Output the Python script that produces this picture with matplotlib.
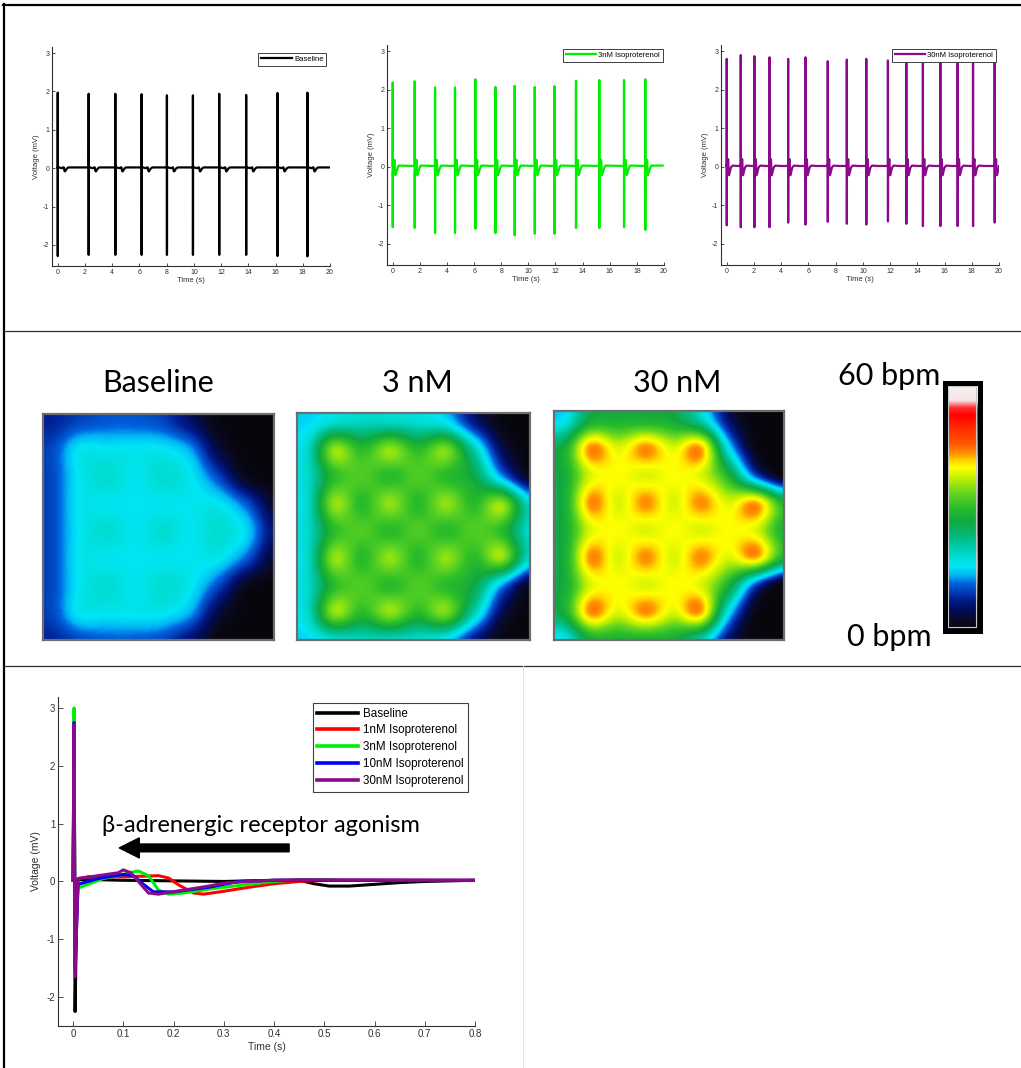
import numpy as np
import matplotlib
matplotlib.use("Agg")
import matplotlib.pyplot as plt
from matplotlib.colors import LinearSegmentedColormap, Normalize
from matplotlib.cm import ScalarMappable
from matplotlib.lines import Line2D
from matplotlib.patches import Rectangle

W, H = 1021, 1068

# single-beat field potentials, time after spike (s) and voltage (mV)
# points 1 and 2 are the spike peak and trough
base_t = [0, 0.002, 0.004, 0.008, 0.05, 0.1, 0.2, 0.3, 0.4, 0.45, 0.48, 0.51, 0.55, 0.6, 0.65, 0.7, 0.8]
base_v = [0.02, 1.97, -2.25, 0.03, 0.03, 0.02, 0.01, 0.0, 0.02, 0.02, -0.04, -0.08, -0.08, -0.05, -0.02, 0.0, 0.02]
iso1_t = [0, 0.002, 0.004, 0.01, 0.03, 0.1, 0.17, 0.19, 0.21, 0.24, 0.26, 0.3, 0.35, 0.4, 0.45, 0.5, 0.8]
iso1_v = [0.02, 2.3, -1.3, 0.05, 0.08, 0.08, 0.1, 0.06, -0.06, -0.2, -0.22, -0.17, -0.1, -0.04, 0.0, 0.02, 0.02]
iso3_t = [0, 0.002, 0.004, 0.008, 0.03, 0.06, 0.09, 0.11, 0.13, 0.15, 0.17, 0.19, 0.22, 0.28, 0.34, 0.4, 0.45, 0.52]
iso3_v = [0.02, 3.0, -1.3, -0.12, -0.05, 0.05, 0.1, 0.15, 0.18, 0.1, -0.15, -0.22, -0.2, -0.12, -0.06, 0.0, 0.03, 0.03]
iso10_t = [0, 0.002, 0.004, 0.01, 0.05, 0.1, 0.12, 0.14, 0.16, 0.2, 0.27, 0.33, 0.4, 0.8]
iso10_v = [0.02, 2.75, -1.5, -0.05, 0.05, 0.12, 0.1, -0.05, -0.18, -0.18, -0.1, 0.0, 0.02, 0.02]
iso30_t = [0, 0.002, 0.004, 0.01, 0.05, 0.09, 0.1, 0.115, 0.135, 0.15, 0.17, 0.22, 0.27, 0.3, 0.35, 0.4, 0.45, 0.8]
iso30_v = [0.02, 2.72, -1.65, 0.05, 0.1, 0.15, 0.2, 0.15, -0.05, -0.2, -0.22, -0.15, -0.08, -0.03, 0.0, 0.02, 0.03, 0.02]

# 20 s recordings: spike times (s) and spike extremes (mV)
base_beats = [0.0, 2.27, 4.23, 6.16, 8.02, 9.93, 11.86, 13.84, 16.14, 18.34]
base_peaks = [1.97, 1.94, 1.94, 1.93, 1.90, 1.90, 1.94, 1.91, 1.96, 1.97]
base_troughs = [-2.29, -2.26, -2.26, -2.26, -2.26, -2.26, -2.26, -2.26, -2.29, -2.30]

iso3_beats = [0.0, 1.62, 3.12, 4.59, 6.09, 7.57, 8.99, 10.47, 11.92, 13.51, 15.23, 17.05, 18.62]
iso3_peaks = [2.19, 2.22, 2.06, 2.06, 2.27, 2.07, 2.10, 2.07, 2.09, 2.23, 2.25, 2.25, 2.27]
iso3_troughs = [-1.57, -1.59, -1.72, -1.72, -1.61, -1.72, -1.78, -1.74, -1.74, -1.59, -1.59, -1.57, -1.64]

iso30_beats = [0.0, 1.03, 2.03, 3.14, 4.51, 5.78, 7.42, 8.82, 10.25, 11.84, 13.19, 14.41, 15.69, 16.96, 18.09, 19.68]
iso30_peaks = [2.80, 2.90, 2.87, 2.84, 2.80, 2.84, 2.74, 2.78, 2.80, 2.76, 2.74, 2.74, 2.74, 2.74, 2.74, 2.74]
iso30_troughs = [-1.52, -1.57, -1.57, -1.57, -1.45, -1.50, -1.43, -1.48, -1.50, -1.42, -1.48, -1.54, -1.54, -1.54, -1.54, -1.45]

# beat rate maps (bpm), electrode grid rows top to bottom
base_rate = [
    [8, 10, 11, 11, 10, 6, 1, 0, 0],
    [10, 16, 16, 16, 16, 13, 4, 0, 0],
    [10, 16, 18, 16, 18, 16, 10, 2, 0],
    [10, 16, 16, 16, 16, 16, 16, 11, 3],
    [10, 16, 18, 16, 18, 16, 18, 15, 6],
    [10, 16, 16, 16, 16, 16, 16, 11, 3],
    [10, 16, 18, 16, 18, 16, 10, 2, 0],
    [10, 16, 16, 16, 16, 13, 4, 0, 0],
    [8, 10, 11, 11, 10, 6, 1, 0, 0],
]
iso3_rate = [
    [15, 18, 19, 19, 18, 16, 7, 1, 0],
    [18, 35, 29.5, 35, 29.5, 34, 20, 5, 0],
    [18, 29.5, 32, 29.5, 32, 29.5, 26, 13, 2],
    [18, 35, 29.5, 35, 29.5, 35, 29.5, 35, 18],
    [18, 29.5, 32, 29.5, 32, 29.5, 32, 29.5, 18],
    [18, 35, 29.5, 35, 29.5, 35, 29.5, 35, 18],
    [18, 29.5, 32, 29.5, 32, 29.5, 26, 13, 2],
    [18, 35, 29.5, 35, 29.5, 34, 20, 5, 0],
    [15, 18, 19, 19, 18, 16, 7, 1, 0],
]
iso30_rate = [
    [16, 27, 28, 28, 27, 20, 6, 0, 0],
    [27, 43, 38, 43, 38, 42, 16, 1, 0],
    [27, 38, 39.5, 38, 39.5, 38, 28, 10, 0],
    [27, 43, 38, 43, 38, 43, 38, 42, 28],
    [27, 38, 39.5, 38, 39.5, 38, 39.5, 38, 28],
    [27, 43, 38, 43, 38, 43, 38, 42, 28],
    [27, 38, 39.5, 38, 39.5, 38, 28, 10, 0],
    [27, 43, 38, 43, 38, 42, 16, 1, 0],
    [16, 27, 28, 28, 27, 20, 6, 0, 0],
]
rate_titles = ["Baseline", "3 nM", "30 nM"]

trace_labels = ["Baseline", "1nM Isoproterenol", "3nM Isoproterenol",
                "10nM Isoproterenol", "30nM Isoproterenol"]
trace_colors = ["#000000", "#ff0000", "#00ee00", "#0000ff", "#8b0a8b"]

plt.rcParams["font.family"] = ["Liberation Sans", "DejaVu Sans"]
plt.rcParams["axes.unicode_minus"] = False
big_font = ["Lato", "DejaVu Sans"]

fig = plt.figure(figsize=(W / 100, H / 100), dpi=100)


def px_axes(x0, y0, x1, y1):
    return fig.add_axes([x0 / W, 1 - y1 / H, (x1 - x0) / W, (y1 - y0) / H])


def beat_train(times, peaks, troughs, tpl_t, tpl_v, t_end):
    t_all, v_all = [], []
    for t0, pk, tr in zip(times, peaks, troughs):
        v = list(tpl_v)
        v[1], v[2] = pk, tr
        t_all.extend(t0 + np.asarray(tpl_t))
        v_all.extend(v)
    t_all.append(t_end)
    v_all.append(v_all[-1])
    return np.array(t_all), np.array(v_all)


def matlab_style(ax, fs, ticklen):
    for side in ("top", "right"):
        ax.spines[side].set_visible(False)
    for side in ("left", "bottom"):
        ax.spines[side].set_color("#303030")
        ax.spines[side].set_linewidth(0.8)
    ax.tick_params(direction="in", length=ticklen, width=0.6, labelsize=fs,
                   colors="#303030", pad=2)


# ---- top row: 20 s recordings ----
top_panels = [
    ((52, 47, 330, 266), base_beats, base_peaks, base_troughs, base_t, base_v,
     "#000000", "Baseline", 20.0, (0.986, 0.973)),
    ((387, 45, 664, 265), iso3_beats, iso3_peaks, iso3_troughs, iso3_t, iso3_v,
     "#00ee00", "3nM Isoproterenol", 19.9, (0.996, 0.982)),
    ((721, 45, 999, 265), iso30_beats, iso30_peaks, iso30_troughs, iso30_t, iso30_v,
     "#8b0a8b", "30nM Isoproterenol", 20.0, (0.989, 0.982)),
]
for box, beats, pk, tr, tt, tv, color, label, t_end, leg_at in top_panels:
    ax = px_axes(*box)
    t, v = beat_train(beats, pk, tr, tt, tv, t_end)
    ax.plot(t, v, color=color, lw=1.6, label=label)
    ax.set_xlim(-0.42, 20)
    ax.set_ylim(-2.55, 3.16)
    ax.set_xticks(range(0, 21, 2))
    ax.set_yticks(range(-2, 4))
    ax.set_xlabel("Time (s)", fontsize=5.5, labelpad=1, color="#303030")
    ax.set_ylabel("Voltage (mV)", fontsize=5.5, labelpad=2, color="#303030")
    matlab_style(ax, 5, 2.5)
    leg = ax.legend(loc="upper right", bbox_to_anchor=leg_at, borderaxespad=0,
                    fontsize=5.5, handlelength=4, handletextpad=0.3,
                    borderpad=0.35, fancybox=False, framealpha=1)
    leg.get_frame().set_edgecolor("#404040")
    leg.get_frame().set_linewidth(0.7)

# ---- middle row: beat rate maps ----
cmap = LinearSegmentedColormap.from_list("bpm", [
    (0.00, "#06060c"), (0.04, "#0a0a24"), (0.08, "#000c55"),
    (0.125, "#001c90"), (0.19, "#0064e0"), (0.22, "#00b4f4"),
    (0.26, "#00e6f6"), (0.30, "#00dcd0"), (0.36, "#00c090"),
    (0.44, "#10a840"), (0.50, "#2cbe28"), (0.56, "#6ad820"),
    (0.61, "#bcee00"), (0.66, "#ffff00"), (0.685, "#ffd800"),
    (0.71, "#ff9800"), (0.75, "#ff5a00"), (0.81, "#ff3000"),
    (0.87, "#ff0000"), (0.90, "#ff2828"), (0.93, "#f8e4e4"),
    (1.00, "#f4f4f4"),
])
norm = Normalize(0, 60)

map_boxes = [(43, 414, 274, 640), (297, 413, 530, 640), (554, 411, 784, 640)]
title_x = [158, 417, 677]
for box, rate, title, tx in zip(map_boxes, [base_rate, iso3_rate, iso30_rate],
                                rate_titles, title_x):
    ax = px_axes(*box)
    ax.imshow(np.array(rate, dtype=float), cmap=cmap, norm=norm,
              interpolation="catrom", interpolation_stage="data",
              extent=(-0.02, 1.06, 1.06, -0.02), aspect="auto")
    ax.set_xlim(0, 1)
    ax.set_ylim(1, 0)
    ax.set_xticks([])
    ax.set_yticks([])
    for sp in ax.spines.values():
        sp.set_color("#6e6e6e")
        sp.set_linewidth(1.6)
    fig.text(tx / W, 1 - 392 / H, title, ha="center", va="baseline",
             fontsize=22, family=big_font)

cax = px_axes(944.5, 382.5, 979.5, 630.5)
cbar = fig.colorbar(ScalarMappable(norm=norm, cmap=cmap), cax=cax)
cbar.set_ticks([])
cbar.outline.set_linewidth(3.6)
cbar.outline.set_edgecolor("black")
cax.add_patch(Rectangle((0.1, 0.015), 0.8, 0.97, transform=cax.transAxes,
                        fill=False, edgecolor="#c8c8c8", lw=0.8))
fig.text(940 / W, 1 - 385 / H, "60 bpm", ha="right", va="baseline",
         fontsize=22, family=big_font)
fig.text(932 / W, 1 - 646 / H, "0 bpm", ha="right", va="baseline",
         fontsize=22, family=big_font)

# ---- bottom row: overlaid single beats ----
ax = px_axes(58, 697, 475, 1026)
traces = [(base_t, base_v), (iso1_t, iso1_v), (iso3_t, iso3_v),
          (iso10_t, iso10_v), (iso30_t, iso30_v)]
for (tt, tv), color, label in zip(traces, trace_colors, trace_labels):
    ax.plot(tt, tv, color=color, lw=2.2, label=label)
ax.set_xlim(-0.03, 0.8)
ax.set_ylim(-2.5, 3.19)
ax.set_xticks(np.arange(0, 0.81, 0.1))
ax.set_xticklabels(["0", "0.1", "0.2", "0.3", "0.4", "0.5", "0.6", "0.7", "0.8"])
ax.set_yticks(range(-2, 4))
ax.set_xlabel("Time (s)", fontsize=7.5, labelpad=2, color="#303030")
ax.set_ylabel("Voltage (mV)", fontsize=7.5, labelpad=4, color="#303030")
matlab_style(ax, 7, 3.5)
leg = ax.legend(loc="upper left", bbox_to_anchor=(0.611, 0.982), borderaxespad=0,
                fontsize=8.4, handlelength=3.5, handletextpad=0.4,
                labelspacing=0.42, borderpad=0.4, fancybox=False, framealpha=1)
leg.get_frame().set_edgecolor("#404040")
leg.get_frame().set_linewidth(0.8)
for line in leg.get_lines():
    line.set_linewidth(2.6)

ax.text(0.058, 0.855, "\u03b2-adrenergic receptor agonism", ha="left",
        va="baseline", fontsize=17, family=big_font)
ax.annotate("", xy=(0.092, 0.58), xytext=(0.43, 0.58),
            arrowprops=dict(arrowstyle="simple,head_length=0.9,head_width=0.9,tail_width=0.35",
                            color="black", mutation_scale=16, shrinkA=0, shrinkB=0))

# ---- panel frame ----
def hline(y, x0, x1, lw, color):
    fig.add_artist(Line2D([x0 / W, x1 / W], [1 - y / H, 1 - y / H], lw=lw, color=color))


def vline(x, y0, y1, lw, color):
    fig.add_artist(Line2D([x / W, x / W], [1 - y0 / H, 1 - y1 / H], lw=lw, color=color))


hline(5, 3, W, 1.6, "black")
vline(4, 4, H, 1.6, "black")
hline(331, 4, W, 0.9, "#303030")
hline(666, 4, W, 0.9, "#303030")
vline(523, 666, H, 0.7, "#e6e6e6")

fig.savefig("out.png", dpi=100)
